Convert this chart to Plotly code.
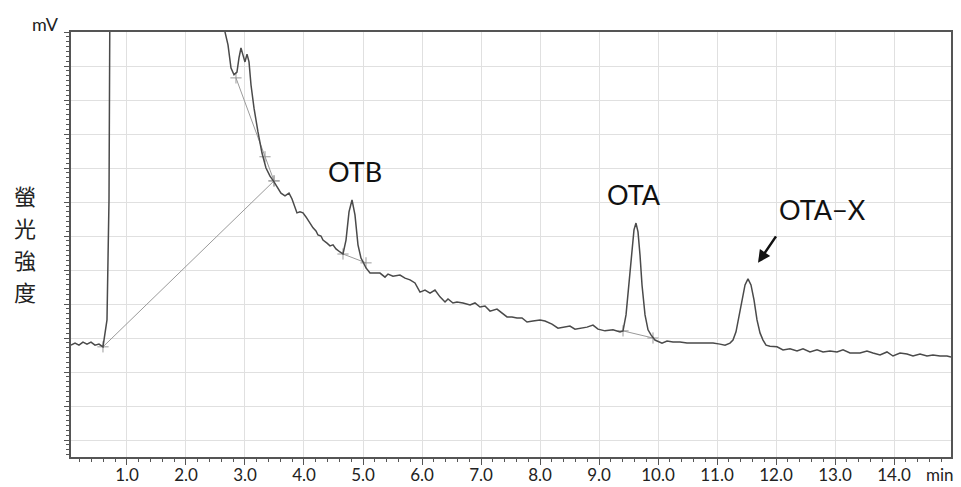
import plotly.graph_objects as go

# ---- data (retention time in min, fluorescence signal in mV) ----
time_min = [0.051, 0.119, 0.186, 0.254, 0.322, 0.390, 0.458, 0.525, 0.593,
            0.661, 0.695, 0.712, 0.729,
            2.576, 2.661, 2.712, 2.763, 2.814, 2.864, 2.898, 2.932, 2.966, 3.000, 3.034, 3.068,
            3.102, 3.153, 3.220, 3.288, 3.356, 3.424, 3.492, 3.559, 3.610, 3.678, 3.746, 3.797,
            3.847, 3.881, 3.932, 3.983, 4.034, 4.085, 4.153, 4.203, 4.237, 4.288, 4.322, 4.390,
            4.441, 4.492, 4.542, 4.610, 4.661, 4.712, 4.763, 4.814, 4.864, 4.915, 4.966, 5.000,
            5.051, 5.119, 5.203, 5.288, 5.373, 5.424, 5.508, 5.627, 5.712, 5.797, 5.881, 5.966,
            6.051, 6.136, 6.220, 6.305, 6.390, 6.441, 6.525, 6.593, 6.695, 6.814, 6.898, 6.983,
            7.068, 7.153, 7.271, 7.356, 7.441, 7.525, 7.610, 7.695, 7.780, 7.881, 8.000, 8.085,
            8.203, 8.305, 8.424, 8.508, 8.593, 8.678, 8.797, 8.898, 8.983, 9.102, 9.237, 9.356,
            9.407, 9.458, 9.508, 9.559, 9.593, 9.627, 9.661, 9.695, 9.729, 9.780, 9.831, 9.881,
            9.949, 10.068, 10.153, 10.254, 10.373, 10.492, 10.593, 10.712, 10.831, 10.932, 11.051,
            11.136, 11.220, 11.271, 11.322, 11.373, 11.424, 11.475, 11.525, 11.576, 11.627, 11.678,
            11.729, 11.780, 11.831, 11.898, 12.017, 12.119, 12.237, 12.356, 12.458, 12.576, 12.695,
            12.797, 12.915, 13.034, 13.136, 13.254, 13.424, 13.542, 13.644, 13.763, 13.881, 13.983,
            14.102, 14.220, 14.322, 14.441, 14.559, 14.661, 14.780, 14.898, 14.966]

signal_mv = [27.9, 28.5, 27.9, 28.8, 28.2, 28.8, 27.9, 28.2, 27.4,
             35.3, 70.6, 120.0, 200.0,
             158.8, 120.0, 116.2, 109.4, 107.4, 108.2, 112.4, 115.3, 113.2, 111.2, 113.5, 111.2,
             104.4, 97.6, 90.6, 84.4, 80.0, 77.6, 75.9, 74.1, 72.6, 71.8, 72.6, 70.9,
             68.5, 66.8, 67.1, 66.8, 65.6, 64.1, 62.4, 61.5, 60.3, 60.0, 58.8, 57.9,
             57.1, 57.4, 56.2, 55.3, 54.7, 58.8, 67.1, 70.6, 66.2, 57.4, 53.5, 52.4,
             50.6, 49.1, 49.1, 49.1, 47.9, 48.8, 48.2, 48.5, 47.6, 47.1, 46.2, 43.5,
             44.1, 43.2, 44.1, 42.1, 40.6, 41.5, 40.3, 40.6, 40.3, 39.7, 40.3, 39.1,
             39.4, 37.9, 38.5, 37.4, 36.2, 36.2, 35.9, 35.9, 34.7, 35.0, 35.3, 35.0,
             34.1, 32.9, 33.2, 33.5, 32.6, 32.9, 33.2, 33.8, 32.6, 32.1, 32.4, 31.8,
             32.1, 36.8, 45.6, 55.9, 61.8, 63.8, 61.2, 54.4, 45.6, 36.8, 32.4, 30.9,
             29.4, 28.5, 29.1, 28.8, 28.8, 28.5, 28.5, 28.5, 28.5, 28.5, 28.2,
             27.9, 28.5, 29.4, 31.8, 36.8, 41.8, 45.6, 47.4, 45.6, 41.2, 35.3,
             31.5, 29.4, 27.9, 27.6, 27.4, 26.5, 26.8, 26.2, 26.8, 25.9, 26.5,
             25.9, 26.2, 25.9, 26.5, 25.6, 25.6, 26.2, 25.6, 25.0, 25.9, 24.7,
             25.6, 25.3, 24.7, 25.3, 24.7, 25.0, 24.7, 24.7, 24.4]

assert len(time_min) == len(signal_mv)

# integration baselines drawn by the data system
baseline1_t = [0.593, 3.492]
baseline1_mv = [27.4, 76.2]
baseline2_t = [2.847, 3.339, 3.492]
baseline2_mv = [106.5, 83.3, 76.2]
baseline3_t = [4.661, 5.051]
baseline3_mv = [54.7, 52.1]
baseline4_t = [9.407, 9.915]
baseline4_mv = [32.1, 30.0]

x_tick_vals = [1.0, 2.0, 3.0, 4.0, 5.0, 6.0, 7.0, 8.0, 9.0, 10.0, 11.0, 12.0, 13.0, 14.0]
x_tick_text = ["1.0", "2.0", "3.0", "4.0", "5.0", "6.0", "7.0", "8.0", "9.0",
               "10.0", "11.0", "12.0", "13.0", "14.0"]

peak_labels = ["OTB", "OTA", "OTA−X"]
peak_label_t = [4.864, 9.593, 12.78]
peak_label_mv = [79.1, 72.1, 67.9]

y_title_chars = ["螢", "光", "強", "度"]

# ---- figure ----
fig = go.Figure()

base_color = "#9a9a9a"
for bt, bm in [(baseline1_t, baseline1_mv), (baseline2_t, baseline2_mv),
               (baseline3_t, baseline3_mv), (baseline4_t, baseline4_mv)]:
    fig.add_trace(go.Scatter(
        x=bt, y=bm, mode="lines+markers",
        line=dict(color=base_color, width=1),
        marker=dict(symbol="cross-thin", size=8, line=dict(color=base_color, width=1)),
        hoverinfo="skip", showlegend=False))

fig.add_trace(go.Scatter(
    x=time_min, y=signal_mv, mode="lines",
    line=dict(color="#4a4a4a", width=1.5),
    showlegend=False))

annotations = []
for txt, t, mv in zip(peak_labels, peak_label_t, peak_label_mv):
    annotations.append(dict(x=t, y=mv, xref="x", yref="y", text=txt, showarrow=False,
                            font=dict(family="Lato", size=27, color="#111111"),
                            xanchor="center", yanchor="middle"))

# arrow pointing at OTA-X
annotations.append(dict(x=11.695, y=52.1, xref="x", yref="y", text="", showarrow=True,
                        ax=19, ay=-28, arrowhead=2, arrowsize=1, arrowwidth=2.5,
                        arrowcolor="#111111"))

# units
annotations.append(dict(x=-0.0295, y=1.0188, xref="paper", yref="paper", text="mV",
                        showarrow=False, font=dict(family="Lato", size=18, color="#222222"),
                        xanchor="center", yanchor="middle"))
annotations.append(dict(x=0.9875, y=-0.0400, xref="paper", yref="paper", text="min",
                        showarrow=False, font=dict(family="Lato", size=17, color="#222222"),
                        xanchor="center", yanchor="middle"))

# vertical axis title, one character per row
for ch, yp in zip(y_title_chars, [0.6165, 0.5412, 0.4659, 0.3906]):
    annotations.append(dict(x=-0.0523, y=yp, xref="paper", yref="paper", text=ch,
                            showarrow=False,
                            font=dict(family="Noto Sans CJK TC", size=22, color="#222222"),
                            xanchor="center", yanchor="middle"))

axis_color = "#555555"
grid_color = "#e0e0e0"

fig.update_layout(
    width=961, height=487,
    margin=dict(l=71, r=10, t=32, b=30, autoexpand=False),
    paper_bgcolor="white", plot_bgcolor="white",
    showlegend=False,
    annotations=annotations,
    xaxis=dict(
        range=[0.051, 14.966],
        automargin=False,
        tickmode="array", tickvals=x_tick_vals, ticktext=x_tick_text,
        ticks="outside", ticklen=6, tickwidth=1, tickcolor=axis_color,
        showline=True, linecolor=axis_color, linewidth=1.5, mirror=True,
        showgrid=True, gridcolor=grid_color, gridwidth=1.2,
        zeroline=False,
        minor=dict(dtick=0.2, tick0=0, ticks="outside", ticklen=3, tickcolor=axis_color,
                   showgrid=False),
        tickfont=dict(family="Lato", size=17, color="#222222"),
        ticklabelstandoff=-4,
    ),
    yaxis=dict(
        range=[-5, 120],
        automargin=False,
        tickmode="linear", tick0=0, dtick=10,
        showticklabels=False,
        ticks="outside", ticklen=5, tickwidth=1, tickcolor=axis_color,
        showline=True, linecolor=axis_color, linewidth=1.5, mirror=True,
        showgrid=True, gridcolor=grid_color, gridwidth=1.2,
        zeroline=False,
        minor=dict(dtick=10 / 7, tick0=0, ticks="outside", ticklen=3, tickcolor=axis_color,
                   showgrid=False),
    ),
)

fig.write_html("out.html")
